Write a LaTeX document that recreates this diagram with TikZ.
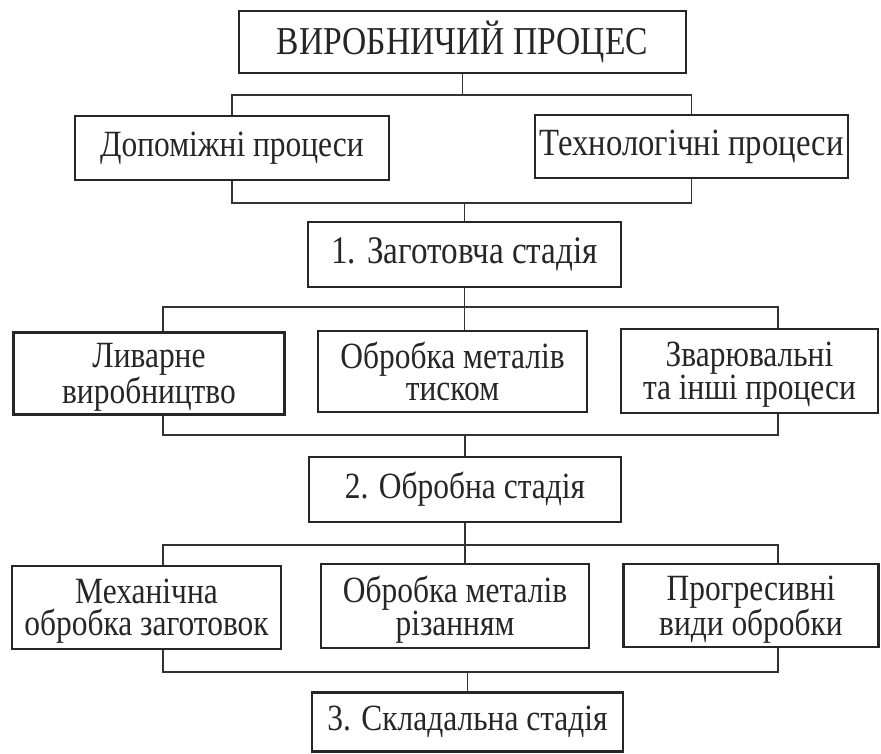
\documentclass[tikz,border=0pt]{standalone}
\usepackage{fontspec}
\setmainfont{Liberation Serif}
\newfontfamily\bodyfont[FakeStretch=0.85]{Liberation Serif}
\begin{document}
\begin{tikzpicture}[x=1pt,y=-1pt,
  box/.style={draw=black!85, line width=2.2pt, rectangle, inner sep=0pt, align=center,
    font=\bodyfont\fontsize{37}{32}\selectfont, text=black!85},
  twoline/.style={box, text depth=0pt},
  conn/.style={draw=black!80, line width=1.1pt}]
\useasboundingbox[fill=white] (0,0) rectangle (881,754);
% boxes
\node[box, minimum width=447pt, minimum height=62pt, font=\bodyfont\fontsize{39.5}{31}\selectfont] (top) at (462.5,42) {ВИРОБНИЧИЙ ПРОЦЕС};
\node[box, minimum width=314pt, minimum height=64pt] (dop) at (232,148) {Допоміжні процеси};
\node[box, minimum width=313pt, minimum height=63pt, font=\bodyfont\fontsize{38.5}{31}\selectfont] (tech) at (691.5,146.5) {Технологічні процеси};
\node[box, minimum width=313pt, minimum height=65pt, font=\bodyfont\fontsize{39}{31}\selectfont] (zag) at (464.5,254.5) {1. Заготовча стадія};
\node[twoline, minimum width=271pt, minimum height=82pt] (lyv) at (149,373.5) {Ливарне\\виробництво};
\node[twoline, minimum width=269pt, minimum height=81pt] (tysk) at (452.5,371.5) {Обробка металів\\тиском};
\node[twoline, minimum width=257pt, minimum height=84pt] (zvar) at (749.5,371) {Зварювальні\\та інші процеси};
\node[box, minimum width=312pt, minimum height=65pt] (obr) at (465,489.5) {2. Обробна стадія};
\node[twoline, minimum width=269pt, minimum height=83pt] (mech) at (146.5,607.5) {Механічна\\обробка заготовок};
\node[twoline, minimum width=268pt, minimum height=84pt] (riz) at (455,606) {Обробка металів\\різанням};
\node[twoline, minimum width=255pt, minimum height=83pt] (prog) at (751,605.5) {Прогресивні\\види обробки};
\node[box, minimum width=311pt, minimum height=59pt] (skl) at (467.5,722) {3. Складальна стадія};
% junction coordinates
\coordinate (a1) at (233,95);
\coordinate (b1) at (233,203);
\coordinate (c1) at (163,307);
\coordinate (c3) at (778,307);
\coordinate (d1) at (163,435);
\coordinate (d3) at (778,435);
\coordinate (e1) at (163,545);
\coordinate (e3) at (778,545);
\coordinate (f1) at (163,672);
\coordinate (f3) at (778,672);
% connectors
\draw[conn] (top.south) -- (top.south |- a1);
\draw[conn] (dop.north) -- (dop.north |- a1) -- (tech.north |- a1) -- (tech.north);
\draw[conn] (dop.south) -- (dop.south |- b1) -- (tech.south |- b1) -- (tech.south);
\draw[conn] (zag.north |- b1) -- (zag.north);
\draw[conn] (zag.south) -- (zag.south |- tysk.north);
\draw[conn] (c1 |- lyv.north) -- (c1) -- (c3) -- (c3 |- zvar.north);
\draw[conn] (c1 |- lyv.south) -- (d1) -- (d3) -- (d3 |- zvar.south);
\draw[conn] (obr.north |- d1) -- (obr.north);
\draw[conn] (obr.south) -- (obr.south |- riz.north);
\draw[conn] (e1 |- mech.north) -- (e1) -- (e3) -- (e3 |- prog.north);
\draw[conn] (e1 |- mech.south) -- (f1) -- (f3) -- (f3 |- prog.south);
\draw[conn] (skl.north |- f1) -- (skl.north);
\end{tikzpicture}
\end{document}
